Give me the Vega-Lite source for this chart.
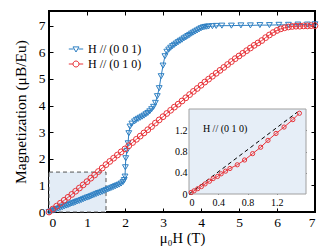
{
  "$schema": "https://vega.github.io/schema/vega-lite/v6.json",
  "width": 266,
  "height": 201,
  "autosize": {"type": "none"},
  "padding": {"left": 49, "top": 11, "right": 17, "bottom": 37},
  "background": "white",
  "config": {
    "view": {"stroke": "#000", "strokeWidth": 2},
    "font": "Liberation Serif",
    "axis": {"labelFont": "Liberation Serif", "titleFont": "Liberation Serif", "labelColor": "#000", "titleColor": "#000", "tickColor": "#000", "grid": false, "domain": false, "titleFontWeight": "normal", "tickWidth": 1},
    "legend": {"labelFont": "Liberation Serif", "labelFontSize": 12, "labelColor": "#000", "symbolSize": 36, "symbolStrokeWidth": 1, "padding": 0, "rowPadding": 3, "labelOffset": 6}
  },
  "datasets": {
    "main": [
      {"H": 0.00, "M": 0.00, "s": "H // (0 0 1)"},
      {"H": 0.05, "M": 0.03, "s": "H // (0 0 1)"},
      {"H": 0.10, "M": 0.05, "s": "H // (0 0 1)"},
      {"H": 0.15, "M": 0.08, "s": "H // (0 0 1)"},
      {"H": 0.20, "M": 0.11, "s": "H // (0 0 1)"},
      {"H": 0.25, "M": 0.13, "s": "H // (0 0 1)"},
      {"H": 0.30, "M": 0.16, "s": "H // (0 0 1)"},
      {"H": 0.35, "M": 0.18, "s": "H // (0 0 1)"},
      {"H": 0.40, "M": 0.21, "s": "H // (0 0 1)"},
      {"H": 0.45, "M": 0.24, "s": "H // (0 0 1)"},
      {"H": 0.50, "M": 0.26, "s": "H // (0 0 1)"},
      {"H": 0.55, "M": 0.29, "s": "H // (0 0 1)"},
      {"H": 0.60, "M": 0.32, "s": "H // (0 0 1)"},
      {"H": 0.65, "M": 0.34, "s": "H // (0 0 1)"},
      {"H": 0.70, "M": 0.37, "s": "H // (0 0 1)"},
      {"H": 0.75, "M": 0.40, "s": "H // (0 0 1)"},
      {"H": 0.80, "M": 0.42, "s": "H // (0 0 1)"},
      {"H": 0.85, "M": 0.45, "s": "H // (0 0 1)"},
      {"H": 0.90, "M": 0.48, "s": "H // (0 0 1)"},
      {"H": 0.95, "M": 0.51, "s": "H // (0 0 1)"},
      {"H": 1.00, "M": 0.54, "s": "H // (0 0 1)"},
      {"H": 1.05, "M": 0.56, "s": "H // (0 0 1)"},
      {"H": 1.10, "M": 0.59, "s": "H // (0 0 1)"},
      {"H": 1.15, "M": 0.62, "s": "H // (0 0 1)"},
      {"H": 1.20, "M": 0.65, "s": "H // (0 0 1)"},
      {"H": 1.25, "M": 0.68, "s": "H // (0 0 1)"},
      {"H": 1.30, "M": 0.71, "s": "H // (0 0 1)"},
      {"H": 1.35, "M": 0.73, "s": "H // (0 0 1)"},
      {"H": 1.40, "M": 0.76, "s": "H // (0 0 1)"},
      {"H": 1.45, "M": 0.79, "s": "H // (0 0 1)"},
      {"H": 1.50, "M": 0.82, "s": "H // (0 0 1)"},
      {"H": 1.55, "M": 0.85, "s": "H // (0 0 1)"},
      {"H": 1.60, "M": 0.88, "s": "H // (0 0 1)"},
      {"H": 1.65, "M": 0.91, "s": "H // (0 0 1)"},
      {"H": 1.70, "M": 0.94, "s": "H // (0 0 1)"},
      {"H": 1.75, "M": 0.97, "s": "H // (0 0 1)"},
      {"H": 1.80, "M": 1.00, "s": "H // (0 0 1)"},
      {"H": 1.85, "M": 1.03, "s": "H // (0 0 1)"},
      {"H": 1.90, "M": 1.07, "s": "H // (0 0 1)"},
      {"H": 1.95, "M": 1.13, "s": "H // (0 0 1)"},
      {"H": 1.98, "M": 1.20, "s": "H // (0 0 1)"},
      {"H": 2.00, "M": 1.33, "s": "H // (0 0 1)"},
      {"H": 2.01, "M": 1.68, "s": "H // (0 0 1)"},
      {"H": 2.02, "M": 2.02, "s": "H // (0 0 1)"},
      {"H": 2.05, "M": 2.30, "s": "H // (0 0 1)"},
      {"H": 2.08, "M": 2.58, "s": "H // (0 0 1)"},
      {"H": 2.10, "M": 2.96, "s": "H // (0 0 1)"},
      {"H": 2.13, "M": 3.21, "s": "H // (0 0 1)"},
      {"H": 2.18, "M": 3.32, "s": "H // (0 0 1)"},
      {"H": 2.25, "M": 3.40, "s": "H // (0 0 1)"},
      {"H": 2.30, "M": 3.46, "s": "H // (0 0 1)"},
      {"H": 2.35, "M": 3.50, "s": "H // (0 0 1)"},
      {"H": 2.40, "M": 3.54, "s": "H // (0 0 1)"},
      {"H": 2.45, "M": 3.58, "s": "H // (0 0 1)"},
      {"H": 2.50, "M": 3.62, "s": "H // (0 0 1)"},
      {"H": 2.55, "M": 3.67, "s": "H // (0 0 1)"},
      {"H": 2.60, "M": 3.72, "s": "H // (0 0 1)"},
      {"H": 2.65, "M": 3.78, "s": "H // (0 0 1)"},
      {"H": 2.70, "M": 3.86, "s": "H // (0 0 1)"},
      {"H": 2.75, "M": 3.95, "s": "H // (0 0 1)"},
      {"H": 2.80, "M": 4.10, "s": "H // (0 0 1)"},
      {"H": 2.85, "M": 4.35, "s": "H // (0 0 1)"},
      {"H": 2.90, "M": 4.65, "s": "H // (0 0 1)"},
      {"H": 2.95, "M": 5.10, "s": "H // (0 0 1)"},
      {"H": 3.00, "M": 5.50, "s": "H // (0 0 1)"},
      {"H": 3.05, "M": 5.85, "s": "H // (0 0 1)"},
      {"H": 3.10, "M": 6.02, "s": "H // (0 0 1)"},
      {"H": 3.15, "M": 6.10, "s": "H // (0 0 1)"},
      {"H": 3.20, "M": 6.17, "s": "H // (0 0 1)"},
      {"H": 3.25, "M": 6.23, "s": "H // (0 0 1)"},
      {"H": 3.30, "M": 6.28, "s": "H // (0 0 1)"},
      {"H": 3.35, "M": 6.33, "s": "H // (0 0 1)"},
      {"H": 3.40, "M": 6.38, "s": "H // (0 0 1)"},
      {"H": 3.45, "M": 6.43, "s": "H // (0 0 1)"},
      {"H": 3.50, "M": 6.47, "s": "H // (0 0 1)"},
      {"H": 3.55, "M": 6.52, "s": "H // (0 0 1)"},
      {"H": 3.60, "M": 6.56, "s": "H // (0 0 1)"},
      {"H": 3.65, "M": 6.61, "s": "H // (0 0 1)"},
      {"H": 3.70, "M": 6.65, "s": "H // (0 0 1)"},
      {"H": 3.75, "M": 6.70, "s": "H // (0 0 1)"},
      {"H": 3.80, "M": 6.74, "s": "H // (0 0 1)"},
      {"H": 3.85, "M": 6.78, "s": "H // (0 0 1)"},
      {"H": 3.90, "M": 6.82, "s": "H // (0 0 1)"},
      {"H": 3.95, "M": 6.86, "s": "H // (0 0 1)"},
      {"H": 4.00, "M": 6.90, "s": "H // (0 0 1)"},
      {"H": 4.05, "M": 6.93, "s": "H // (0 0 1)"},
      {"H": 4.10, "M": 6.95, "s": "H // (0 0 1)"},
      {"H": 4.15, "M": 6.96, "s": "H // (0 0 1)"},
      {"H": 4.20, "M": 6.97, "s": "H // (0 0 1)"},
      {"H": 4.30, "M": 6.98, "s": "H // (0 0 1)"},
      {"H": 4.40, "M": 6.99, "s": "H // (0 0 1)"},
      {"H": 4.55, "M": 7.00, "s": "H // (0 0 1)"},
      {"H": 4.80, "M": 7.00, "s": "H // (0 0 1)"},
      {"H": 5.05, "M": 7.01, "s": "H // (0 0 1)"},
      {"H": 5.30, "M": 7.01, "s": "H // (0 0 1)"},
      {"H": 5.55, "M": 7.02, "s": "H // (0 0 1)"},
      {"H": 5.80, "M": 7.02, "s": "H // (0 0 1)"},
      {"H": 6.05, "M": 7.03, "s": "H // (0 0 1)"},
      {"H": 6.30, "M": 7.03, "s": "H // (0 0 1)"},
      {"H": 6.55, "M": 7.04, "s": "H // (0 0 1)"},
      {"H": 6.80, "M": 7.04, "s": "H // (0 0 1)"},
      {"H": 7.00, "M": 7.05, "s": "H // (0 0 1)"},
      {"H": 0.0, "M": 0.00, "s": "H // (0 1 0)"},
      {"H": 0.1, "M": 0.11, "s": "H // (0 1 0)"},
      {"H": 0.2, "M": 0.22, "s": "H // (0 1 0)"},
      {"H": 0.3, "M": 0.33, "s": "H // (0 1 0)"},
      {"H": 0.4, "M": 0.44, "s": "H // (0 1 0)"},
      {"H": 0.5, "M": 0.55, "s": "H // (0 1 0)"},
      {"H": 0.6, "M": 0.66, "s": "H // (0 1 0)"},
      {"H": 0.7, "M": 0.78, "s": "H // (0 1 0)"},
      {"H": 0.8, "M": 0.90, "s": "H // (0 1 0)"},
      {"H": 0.9, "M": 1.02, "s": "H // (0 1 0)"},
      {"H": 1.0, "M": 1.14, "s": "H // (0 1 0)"},
      {"H": 1.1, "M": 1.27, "s": "H // (0 1 0)"},
      {"H": 1.2, "M": 1.39, "s": "H // (0 1 0)"},
      {"H": 1.3, "M": 1.52, "s": "H // (0 1 0)"},
      {"H": 1.4, "M": 1.65, "s": "H // (0 1 0)"},
      {"H": 1.5, "M": 1.78, "s": "H // (0 1 0)"},
      {"H": 1.6, "M": 1.90, "s": "H // (0 1 0)"},
      {"H": 1.7, "M": 2.02, "s": "H // (0 1 0)"},
      {"H": 1.8, "M": 2.14, "s": "H // (0 1 0)"},
      {"H": 1.9, "M": 2.26, "s": "H // (0 1 0)"},
      {"H": 2.0, "M": 2.37, "s": "H // (0 1 0)"},
      {"H": 2.1, "M": 2.49, "s": "H // (0 1 0)"},
      {"H": 2.2, "M": 2.61, "s": "H // (0 1 0)"},
      {"H": 2.3, "M": 2.73, "s": "H // (0 1 0)"},
      {"H": 2.4, "M": 2.85, "s": "H // (0 1 0)"},
      {"H": 2.5, "M": 2.97, "s": "H // (0 1 0)"},
      {"H": 2.6, "M": 3.09, "s": "H // (0 1 0)"},
      {"H": 2.7, "M": 3.21, "s": "H // (0 1 0)"},
      {"H": 2.8, "M": 3.34, "s": "H // (0 1 0)"},
      {"H": 2.9, "M": 3.46, "s": "H // (0 1 0)"},
      {"H": 3.0, "M": 3.58, "s": "H // (0 1 0)"},
      {"H": 3.1, "M": 3.70, "s": "H // (0 1 0)"},
      {"H": 3.2, "M": 3.82, "s": "H // (0 1 0)"},
      {"H": 3.3, "M": 3.94, "s": "H // (0 1 0)"},
      {"H": 3.4, "M": 4.05, "s": "H // (0 1 0)"},
      {"H": 3.5, "M": 4.17, "s": "H // (0 1 0)"},
      {"H": 3.6, "M": 4.29, "s": "H // (0 1 0)"},
      {"H": 3.7, "M": 4.41, "s": "H // (0 1 0)"},
      {"H": 3.8, "M": 4.53, "s": "H // (0 1 0)"},
      {"H": 3.9, "M": 4.64, "s": "H // (0 1 0)"},
      {"H": 4.0, "M": 4.76, "s": "H // (0 1 0)"},
      {"H": 4.1, "M": 4.88, "s": "H // (0 1 0)"},
      {"H": 4.2, "M": 4.99, "s": "H // (0 1 0)"},
      {"H": 4.3, "M": 5.10, "s": "H // (0 1 0)"},
      {"H": 4.4, "M": 5.21, "s": "H // (0 1 0)"},
      {"H": 4.5, "M": 5.32, "s": "H // (0 1 0)"},
      {"H": 4.6, "M": 5.43, "s": "H // (0 1 0)"},
      {"H": 4.7, "M": 5.54, "s": "H // (0 1 0)"},
      {"H": 4.8, "M": 5.65, "s": "H // (0 1 0)"},
      {"H": 4.9, "M": 5.76, "s": "H // (0 1 0)"},
      {"H": 5.0, "M": 5.86, "s": "H // (0 1 0)"},
      {"H": 5.1, "M": 5.96, "s": "H // (0 1 0)"},
      {"H": 5.2, "M": 6.06, "s": "H // (0 1 0)"},
      {"H": 5.3, "M": 6.16, "s": "H // (0 1 0)"},
      {"H": 5.4, "M": 6.26, "s": "H // (0 1 0)"},
      {"H": 5.5, "M": 6.35, "s": "H // (0 1 0)"},
      {"H": 5.6, "M": 6.44, "s": "H // (0 1 0)"},
      {"H": 5.7, "M": 6.55, "s": "H // (0 1 0)"},
      {"H": 5.8, "M": 6.65, "s": "H // (0 1 0)"},
      {"H": 5.9, "M": 6.74, "s": "H // (0 1 0)"},
      {"H": 6.0, "M": 6.82, "s": "H // (0 1 0)"},
      {"H": 6.1, "M": 6.88, "s": "H // (0 1 0)"},
      {"H": 6.2, "M": 6.92, "s": "H // (0 1 0)"},
      {"H": 6.3, "M": 6.95, "s": "H // (0 1 0)"},
      {"H": 6.4, "M": 6.97, "s": "H // (0 1 0)"},
      {"H": 6.5, "M": 6.98, "s": "H // (0 1 0)"},
      {"H": 6.6, "M": 6.98, "s": "H // (0 1 0)"},
      {"H": 6.7, "M": 6.99, "s": "H // (0 1 0)"},
      {"H": 6.8, "M": 6.99, "s": "H // (0 1 0)"},
      {"H": 6.9, "M": 7.00, "s": "H // (0 1 0)"},
      {"H": 7.0, "M": 7.00, "s": "H // (0 1 0)"}
    ],
    "inset": [
      {"H": 0.03, "M": 0.03},
      {"H": 0.07, "M": 0.06},
      {"H": 0.12, "M": 0.10},
      {"H": 0.17, "M": 0.14},
      {"H": 0.22, "M": 0.19},
      {"H": 0.28, "M": 0.24},
      {"H": 0.33, "M": 0.29},
      {"H": 0.39, "M": 0.33},
      {"H": 0.44, "M": 0.38},
      {"H": 0.50, "M": 0.43},
      {"H": 0.56, "M": 0.48},
      {"H": 0.66, "M": 0.55},
      {"H": 0.76, "M": 0.64},
      {"H": 0.87, "M": 0.76},
      {"H": 0.98, "M": 0.88},
      {"H": 1.08, "M": 1.01},
      {"H": 1.19, "M": 1.14},
      {"H": 1.30, "M": 1.26},
      {"H": 1.42, "M": 1.40},
      {"H": 1.51, "M": 1.52}
    ],
    "fit": [
      {"H": 0.0, "M": 0.0},
      {"H": 1.48, "M": 1.54}
    ]
  },
  "resolve": {"scale": {"x": "independent", "y": "independent"}},
  "layer": [
    {
      "resolve": {"axis": {"x": "independent", "y": "independent"}},
      "layer": [
        {
          "data": {"values": [{}]},
          "mark": {"type": "rect", "fill": "#e3ecf6", "stroke": "#555", "strokeDash": [4, 3], "strokeWidth": 1},
          "encoding": {
            "x": {"datum": 0, "type": "quantitative", "scale": {"domain": [0, 7], "nice": false, "zero": false},
              "axis": {"orient": "bottom", "values": [0, 1, 2, 3, 4, 5, 6, 7], "tickSize": -4, "labelPadding": 7, "labelFont": "Liberation Serif", "labelFontSize": 13.5, "title": "μ₀H (T)", "titleFont": "Liberation Serif", "titleFontSize": 14.5, "titlePadding": 3}},
            "x2": {"datum": 1.5},
            "y": {"datum": 0, "type": "quantitative", "scale": {"domain": [0, 7.55], "nice": false, "zero": false},
              "axis": {"orient": "left", "values": [0, 1, 2, 3, 4, 5, 6, 7], "tickSize": -4, "labelPadding": 8, "labelFont": "Liberation Serif", "labelFontSize": 13.5, "title": "Magnetization (μB/Eu)", "titleFont": "Liberation Serif", "titleFontSize": 15.5, "titlePadding": 10}},
            "y2": {"datum": 1.5}
          }
        },
        {
          "data": {"name": "main"},
          "transform": [{"filter": "datum.s === 'H // (0 0 1)'"}],
          "mark": {"type": "line", "strokeWidth": 1, "color": "#2f80c3"},
          "encoding": {
            "x": {"field": "H", "type": "quantitative", "axis": {"orient": "top", "values": [0, 1, 2, 3, 4, 5, 6, 7], "tickSize": -4, "labels": false, "title": null}},
            "y": {"field": "M", "type": "quantitative", "axis": {"orient": "right", "values": [0, 1, 2, 3, 4, 5, 6, 7], "tickSize": -4, "labels": false, "title": null}}
          }
        },
        {
          "data": {"name": "main"},
          "transform": [{"filter": "datum.s === 'H // (0 1 0)'"}],
          "mark": {"type": "line", "strokeWidth": 1, "color": "#e8353b"},
          "encoding": {
            "x": {"field": "H", "type": "quantitative", "axis": null},
            "y": {"field": "M", "type": "quantitative", "axis": null}
          }
        },
        {
          "data": {"name": "main"},
          "transform": [{"filter": "datum.s === 'H // (0 0 1)'"}],
          "mark": {"type": "point", "shape": "triangle-down", "filled": false, "strokeWidth": 1, "opacity": 1, "size": 34, "color": "#2f80c3"},
          "encoding": {
            "x": {"field": "H", "type": "quantitative", "axis": null},
            "y": {"field": "M", "type": "quantitative", "axis": null}
          }
        },
        {
          "data": {"name": "main"},
          "transform": [{"filter": "datum.s === 'H // (0 1 0)'"}],
          "mark": {"type": "point", "shape": "circle", "filled": false, "strokeWidth": 1, "opacity": 1, "size": 34, "color": "#e8353b"},
          "encoding": {
            "x": {"field": "H", "type": "quantitative", "axis": null},
            "y": {"field": "M", "type": "quantitative", "axis": null}
          }
        },
        {
          "data": {"name": "main"},
          "transform": [{"filter": "datum.H < 0"}],
          "mark": {"type": "point", "filled": false, "strokeWidth": 1, "opacity": 1},
          "encoding": {
            "x": {"field": "H", "type": "quantitative", "axis": null},
            "y": {"field": "M", "type": "quantitative", "axis": null},
            "shape": {"field": "s", "type": "nominal", "title": null,
              "scale": {"domain": ["H // (0 0 1)", "H // (0 1 0)"], "range": ["M-2.4,0H-0.8M0.8,0H2.4M-1,-0.7H1L0,1Z", "M-2.4,0H-1M1,0H2.4M-1,0A1,1 0 1,0 1,0A1,1 0 1,0 -1,0"]},
              "legend": {"orient": "none", "legendX": 21, "legendY": 32, "title": null}},
            "color": {"field": "s", "type": "nominal", "title": null,
              "scale": {"domain": ["H // (0 0 1)", "H // (0 1 0)"], "range": ["#2f80c3", "#e8353b"]},
              "legend": {"orient": "none", "legendX": 21, "legendY": 32, "title": null}}
          }
        }
      ]
    },
    {
      "resolve": {"axis": {"x": "independent", "y": "independent"}},
      "layer": [
        {
          "data": {"values": [{}]},
          "mark": {"type": "rect", "fill": "#e6eef7", "stroke": "#a0a0a0", "strokeWidth": 1},
          "encoding": {
            "x": {"datum": 0, "type": "quantitative", "scale": {"domain": [0, 1.6], "range": [140, 257], "nice": false, "zero": false},
              "axis": {"orient": "bottom", "offset": -18, "values": [0, 0.4, 0.8, 1.2], "format": "~g", "tickSize": -3, "labelPadding": 6, "labelFont": "Liberation Serif", "labelFontSize": 10, "title": null}},
            "x2": {"datum": 1.6},
            "y": {"datum": 0, "type": "quantitative", "scale": {"domain": [0, 1.6], "range": [183, 98], "nice": false, "zero": false},
              "axis": {"orient": "left", "offset": -140, "values": [0, 0.4, 0.8, 1.2], "format": "~g", "tickSize": -3, "labelPadding": 5, "labelFont": "Liberation Serif", "labelFontSize": 10, "title": null}},
            "y2": {"datum": 1.6}
          }
        },
        {
          "data": {"name": "fit"},
          "mark": {"type": "line", "color": "#000", "strokeWidth": 1, "strokeDash": [4, 3]},
          "encoding": {
            "x": {"field": "H", "type": "quantitative", "axis": {"orient": "top", "offset": -98, "values": [0.4, 0.8, 1.2], "tickSize": -3, "labels": false, "title": null}},
            "y": {"field": "M", "type": "quantitative", "axis": {"orient": "right", "offset": -9, "values": [0.4, 0.8, 1.2], "tickSize": -3, "labels": false, "title": null}}
          }
        },
        {
          "data": {"name": "inset"},
          "mark": {"type": "line", "color": "#e8353b", "strokeWidth": 1},
          "encoding": {
            "x": {"field": "H", "type": "quantitative", "axis": null},
            "y": {"field": "M", "type": "quantitative", "axis": null}
          }
        },
        {
          "data": {"name": "inset"},
          "mark": {"type": "point", "shape": "circle", "filled": false, "color": "#e8353b", "strokeWidth": 1, "opacity": 1, "size": 18},
          "encoding": {
            "x": {"field": "H", "type": "quantitative", "axis": null},
            "y": {"field": "M", "type": "quantitative", "axis": null}
          }
        },
        {
          "data": {"values": [{}]},
          "mark": {"type": "text", "text": "H // (0 1 0)", "align": "left", "baseline": "middle", "fontSize": 10, "font": "Liberation Serif", "color": "#000"},
          "encoding": {
            "x": {"datum": 0.19, "type": "quantitative", "axis": null},
            "y": {"datum": 1.23, "type": "quantitative", "axis": null}
          }
        }
      ]
    }
  ]
}
